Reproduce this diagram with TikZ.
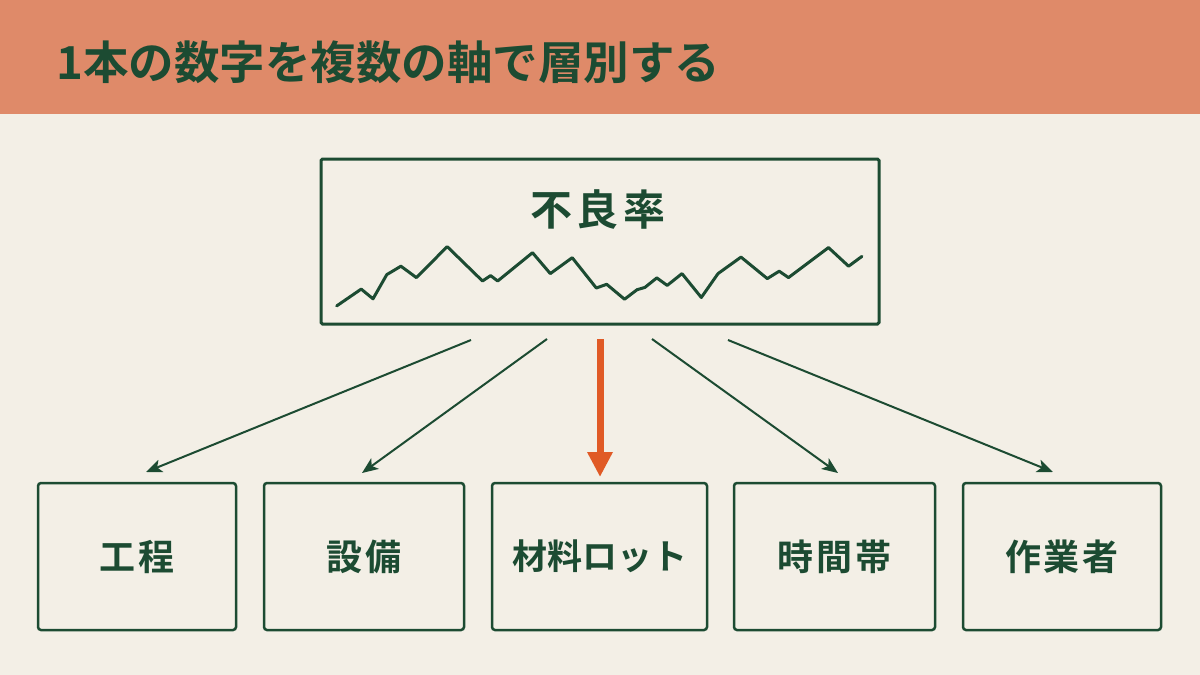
\documentclass[tikz,border=0pt]{standalone}
\usepackage{fontspec}
\setmainfont{Noto Sans CJK JP}[BoldFont={Noto Sans CJK JP Bold}]
\usetikzlibrary{arrows.meta}
\definecolor{bg}{HTML}{F3EFE6}
\definecolor{hdr}{HTML}{DF8A69}
\definecolor{dgreen}{HTML}{1C4B32}
\definecolor{accent}{HTML}{E05A26}
\tikzset{
  catbox/.style={draw=dgreen, line width=2.5pt, rounded corners=3pt, inner sep=0pt,
    minimum height=147pt, text=dgreen,
    font=\bfseries\fontsize{36}{40}\selectfont\addfontfeatures{LetterSpace=8}},
  mainbox/.style={draw=dgreen, line width=3pt, rounded corners=1.5pt, inner sep=0pt,
    minimum width=558pt, minimum height=165pt},
  spark/.style={draw=dgreen, line width=3pt, line join=round, line cap=round},
  branch/.style={draw=dgreen, line width=2pt, -{Stealth[length=16pt,width=13pt,inset=4pt]}},
  focus/.style={draw=accent, line width=7pt, -{Triangle[length=25pt,width=24pt]}},
}
\begin{document}
\begin{tikzpicture}[x=1pt,y=-1pt]
\useasboundingbox (0,0) rectangle (1200,675);
\fill[bg] (0,0) rectangle (1200,675);
\fill[hdr] (0,0) rectangle (1200,114);
\node[anchor=west, text=dgreen, inner sep=0pt, font=\bfseries\fontsize{45.5}{50}\selectfont] (title) at (56,62) {1本の数字を複数の軸で層別する};

\node[mainbox] (top) at (600,241.5) {};
\node[text=dgreen, inner sep=0pt, font=\bfseries\fontsize{42}{46}\selectfont\addfontfeatures{LetterSpace=10}] (toplabel) at (598,210) {不良率};
\draw[spark] plot coordinates {(336.7,305.9) (361.2,289.1) (373.0,298.8) (386.8,274.6) (400.9,266.2) (416.4,277.6) (447.2,246.6) (482.5,281.0) (490.6,275.6) (497.7,281.0) (532.5,252.7) (550.3,273.6) (572.2,257.7) (596.3,288.0) (606.7,284.3) (624.5,299.2) (637.1,289.7) (644.9,287.4) (656.8,277.9) (667.2,285.4) (682.0,273.6) (701.3,297.5) (718.0,273.6) (741.0,257.1) (767.3,278.6) (779.2,271.2) (788.5,277.6) (828.5,247.6) (848.6,266.2) (861.9,256.4)};

\node[catbox, minimum width=198pt] (b1) at (137,556.5) {工程};
\node[catbox, minimum width=200pt] (b2) at (364,556.5) {設備};
\node[catbox, minimum width=215pt, font=\bfseries\fontsize{35}{40}\selectfont] (b3) at (599.5,556.5) {材料ロット};
\node[catbox, minimum width=201pt] (b4) at (834.5,556.5) {時間帯};
\node[catbox, minimum width=198pt] (b5) at (1062,556.5) {作業者};

\coordinate (s1) at (471,340); \coordinate (e1) at (146,472);
\coordinate (s2) at (547,339); \coordinate (e2) at (362,473);
\coordinate (s3) at (600,339); \coordinate (e3) at (600,477);
\coordinate (s4) at (652,339); \coordinate (e4) at (838,473);
\coordinate (s5) at (728,340); \coordinate (e5) at (1053,472);
\draw[branch] (s1) -- (e1);
\draw[branch] (s2) -- (e2);
\draw[focus] (s3) -- (e3);
\draw[branch] (s4) -- (e4);
\draw[branch] (s5) -- (e5);
\end{tikzpicture}
\end{document}
